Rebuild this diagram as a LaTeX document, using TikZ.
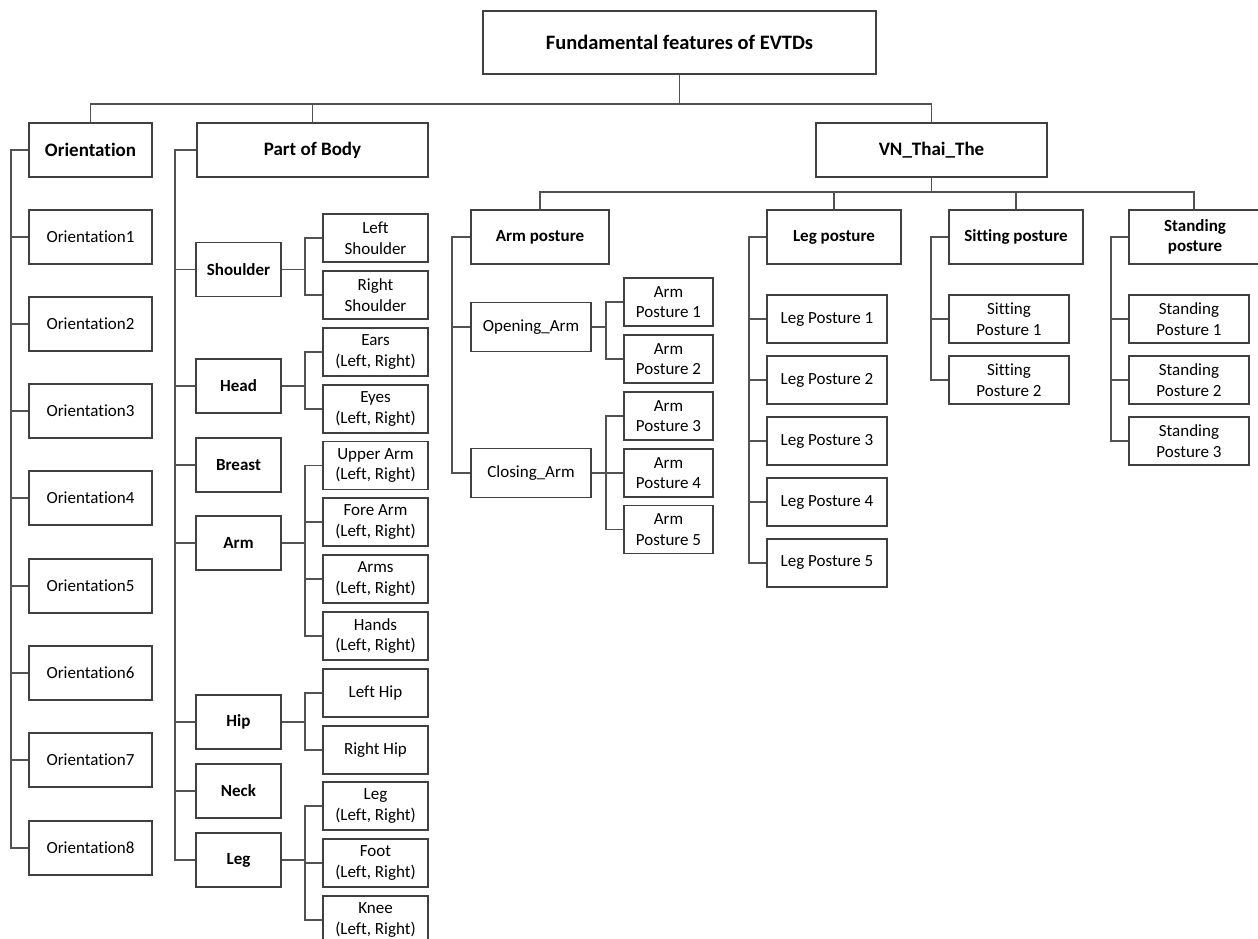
\documentclass[tikz,border=0pt]{standalone}
\usepackage{fontspec}
\setmainfont{Carlito}[Ligatures=NoCommon]
\begin{document}
\begin{tikzpicture}[x=1pt,y=-1pt,
 box/.style={draw=black!75, line width=1.7pt, inner sep=0pt, align=center, text=black, font=\fontsize{17}{20.5}\selectfont},
 bbox/.style={box, font=\fontsize{17}{20.5}\selectfont\bfseries},
 hbox/.style={box, font=\fontsize{19}{22}\selectfont\bfseries},
 sz/.style 2 args={minimum width=#1pt, minimum height=#2pt},
 conn/.style={draw=black!68, line width=1.8pt},
]
\useasboundingbox (0,0) rectangle (1258,939);
\clip (0,0) rectangle (1258,939);
\fill[white] (0,0) rectangle (1258,939);

% root and level 1
\node[box, sz={393}{63}, font=\fontsize{20.5}{24}\selectfont\bfseries] (root) at (679.5,42.5) {Fundamental features of EVTDs};
\node[hbox, sz={123}{54}] (orient) at (90.5,150) {Orientation};
\node[hbox, sz={231}{54}] (pob) at (312.5,150) {Part of Body};
\node[hbox, sz={231}{54}] (vn) at (931.5,150) {VN\_Thai\_The};

% orientation children
\foreach \i/\y in {1/237,2/324,3/411,4/498,5/586,6/673,7/760,8/848}
  \node[box, sz={123}{54}] (o\i) at (90.5,\y) {Orientation\i};

% part of body children
\node[bbox, sz={85}{54}] (sho) at (238.5,269.5) {Shoulder};
\node[bbox, sz={85}{54}] (head) at (238.5,386) {Head};
\node[bbox, sz={85}{54}] (breast) at (238.5,465) {Breast};
\node[bbox, sz={85}{54}] (arm) at (238.5,543) {Arm};
\node[bbox, sz={85}{54}] (hip) at (238.5,722) {Hip};
\node[bbox, sz={85}{54}] (neck) at (238.5,791) {Neck};
\node[bbox, sz={85}{54}] (leg) at (238.5,860) {Leg};

% sub parts
\node[box, sz={105}{48}] (lsho) at (375.5,238) {Left\\Shoulder};
\node[box, sz={105}{48}] (rsho) at (375.5,295) {Right\\Shoulder};
\node[box, sz={105}{48}] (ears) at (375.5,352) {Ears\\(Left, Right)};
\node[box, sz={105}{48}] (eyes) at (375.5,409) {Eyes\\(Left, Right)};
\node[box, sz={105}{48}] (uarm) at (375.5,465.5) {Upper Arm\\(Left, Right)};
\node[box, sz={105}{48}] (farm) at (375.5,522) {Fore Arm\\(Left, Right)};
\node[box, sz={105}{48}] (arms) at (375.5,579) {Arms\\(Left, Right)};
\node[box, sz={105}{48}] (hands) at (375.5,636) {Hands\\(Left, Right)};
\node[box, sz={105}{48}] (lhip) at (375.5,693) {Left Hip};
\node[box, sz={105}{48}] (rhip) at (375.5,750) {Right Hip};
\node[box, sz={105}{48}] (legs) at (375.5,806) {Leg\\(Left, Right)};
\node[box, sz={105}{48}] (foot) at (375.5,863) {Foot\\(Left, Right)};
\node[box, sz={105}{48}] (knee) at (375.5,920) {Knee\\(Left, Right)};

% VN_Thai_The children
\node[bbox, sz={138}{54}] (armp) at (540,237) {Arm posture};
\node[bbox, sz={134}{54}] (legp) at (834,237) {Leg posture};
\node[bbox, sz={134}{54}] (sitp) at (1016,237) {Sitting posture};
\node[bbox, sz={132}{54}] (standp) at (1195,237) {Standing\\posture};

\node[box, sz={120}{49}] (open) at (531,327) {Opening\_Arm};
\node[box, sz={120}{49}] (close) at (531,473) {Closing\_Arm};
\foreach \i/\y in {1/302,2/359,3/416,4/473,5/529.5}
  \node[box, sz={89}{48}] (ap\i) at (668.5,\y) {Arm\\Posture \i};
\foreach \i/\y in {1/319,2/380,3/441,4/502,5/563}
  \node[box, sz={120}{48}] (lp\i) at (827,\y) {Leg Posture \i};
\foreach \i/\y in {1/319,2/380}
  \node[box, sz={120}{48}] (sp\i) at (1009,\y) {Sitting\\Posture \i};
\foreach \i/\y in {1/319,2/380,3/441}
  \node[box, sz={120}{48}] (stp\i) at (1189,\y) {Standing\\Posture \i};

% connectors
\coordinate (busA) at (0,104);
\coordinate (busB) at (0,192);
\coordinate (osp) at (11,0);
\coordinate (psp) at (175,0);
\coordinate (ssp) at (305,0);
\coordinate (asp) at (452,0);
\coordinate (aasp) at (606,0);
\coordinate (lsp) at (749,0);
\coordinate (sisp) at (931,0);
\coordinate (stsp) at (1111,0);

\draw[conn] (root.south) -- (root.south |- busA) -| (orient.north);
\draw[conn] (root.south |- busA) -| (pob.north);
\draw[conn] (root.south |- busA) -| (vn.north);

\foreach \i in {1,...,8}
  \draw[conn] (orient.west) -- (orient.west -| osp) |- (o\i.west);
\foreach \n in {sho,head,breast,arm,hip,neck,leg}
  \draw[conn] (pob.west) -- (pob.west -| psp) |- (\n.west);

\foreach \p/\c in {sho/lsho,sho/rsho,head/ears,head/eyes,arm/uarm,arm/farm,arm/arms,arm/hands,hip/lhip,hip/rhip,leg/legs,leg/foot,leg/knee}
  \draw[conn] (\p.east) -- (\p.east -| ssp) |- (\c.west);

\draw[conn] (vn.south) -- (vn.south |- busB) -| (armp.north);
\draw[conn] (vn.south |- busB) -| (legp.north);
\draw[conn] (vn.south |- busB) -| (sitp.north);
\draw[conn] (vn.south |- busB) -| ([xshift=-1pt]standp.north);

\foreach \c in {open,close}
  \draw[conn] (armp.west) -- (armp.west -| asp) |- (\c.west);
\foreach \c in {ap1,ap2}
  \draw[conn] (open.east) -- (open.east -| aasp) |- (\c.west);
\foreach \c in {ap3,ap4,ap5}
  \draw[conn] (close.east) -- (close.east -| aasp) |- (\c.west);
\foreach \i in {1,...,5}
  \draw[conn] (legp.west) -- (legp.west -| lsp) |- (lp\i.west);
\foreach \i in {1,2}
  \draw[conn] (sitp.west) -- (sitp.west -| sisp) |- (sp\i.west);
\foreach \i in {1,2,3}
  \draw[conn] (standp.west) -- (standp.west -| stsp) |- (stp\i.west);
\end{tikzpicture}
\end{document}
